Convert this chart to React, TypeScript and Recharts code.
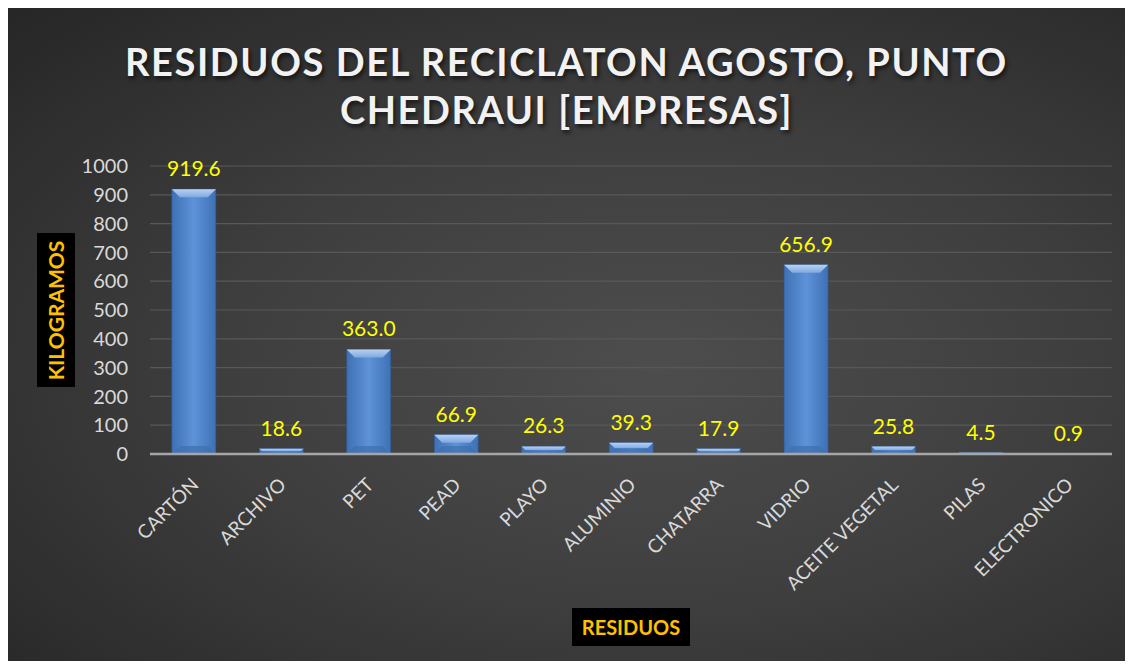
import { BarChart, Bar, XAxis, YAxis, CartesianGrid, LabelList } from 'recharts';

const categories = ['CARTÓN', 'ARCHIVO', 'PET', 'PEAD', 'PLAYO', 'ALUMINIO', 'CHATARRA', 'VIDRIO', 'ACEITE VEGETAL', 'PILAS', 'ELECTRONICO'];
const kilos = [919.6, 18.6, 363.0, 66.9, 26.3, 39.3, 17.9, 656.9, 25.8, 4.5, 0.9];
const yTicks = [0, 100, 200, 300, 400, 500, 600, 700, 800, 900, 1000];

const data = categories.map((name, i) => ({ name, kg: kilos[i] }));

const W = 1117;
const H = 653;

function BevelBar(props: any) {
    const { x, y, width, height } = props;
    if (!height || height <= 0) return null;
    const b = Math.min(8, height / 2, width / 4);
    return (
        <g>
            <rect x={x} y={y} width={width} height={height} fill="url(#barBody)" stroke="#2f5a91" strokeWidth={0.6} />
            <polygon points={`${x},${y} ${x + width},${y} ${x + width - b},${y + b} ${x + b},${y + b}`} fill="url(#barTop)" />
            <polygon points={`${x},${y + height} ${x + width},${y + height} ${x + width - b},${y + height - b} ${x + b},${y + height - b}`} fill="#3f6fae" opacity={0.7} />
        </g>
    );
}

function AngledTick(props: any) {
    const { x, y, payload } = props;
    return (
        <g transform={`translate(${x + 6},${y + 24})`}>
            <text textAnchor="end" transform="rotate(-45)" fill="#d9d9d9" fontSize={19} fontFamily="Lato, 'Open Sans', sans-serif">
                {payload.value}
            </text>
        </g>
    );
}

export default function App() {
    return (
        <div
            style={{
                position: 'relative',
                width: W,
                height: H,
                background: 'radial-gradient(ellipse at 58% 55%, #4d4d4d 0%, #3f3f3f 45%, #262626 100%)',
                fontFamily: "Lato, 'Open Sans', sans-serif",
            }}
        >
            <div
                style={{
                    position: 'absolute',
                    top: 29,
                    left: 0,
                    width: W,
                    textAlign: 'center',
                    color: '#f2f2f2',
                    fontSize: 38,
                    fontWeight: 700,
                    letterSpacing: 1.6,
                    lineHeight: '48px',
                    textShadow: '2px 3px 4px rgba(0,0,0,0.6)',
                }}
            >
                RESIDUOS DEL RECICLATON AGOSTO, PUNTO
                <br />
                CHEDRAUI [EMPRESAS]
            </div>
            <BarChart width={W} height={H} data={data} margin={{ top: 158, right: 13, left: 82, bottom: 87 }} barCategoryGap="25%">
                <defs>
                    <linearGradient id="barBody" x1="0" y1="0" x2="1" y2="0">
                        <stop offset="0%" stopColor="#3e70b4" />
                        <stop offset="50%" stopColor="#5e93d9" />
                        <stop offset="100%" stopColor="#3e70b4" />
                    </linearGradient>
                    <linearGradient id="barTop" x1="0" y1="0" x2="0" y2="1">
                        <stop offset="0%" stopColor="#b8d2f2" />
                        <stop offset="100%" stopColor="#7fa9e2" />
                    </linearGradient>
                </defs>
                <CartesianGrid vertical={false} stroke="#585858" strokeWidth={1.2} />
                <YAxis
                    width={60}
                    domain={[0, 1000]}
                    ticks={yTicks}
                    interval={0}
                    axisLine={false}
                    tickLine={false}
                    tickSize={0}
                    tickMargin={22}
                    tick={{ fill: '#d9d9d9', fontSize: 20, fontFamily: "Lato, 'Open Sans', sans-serif" }}
                />
                <XAxis
                    dataKey="name"
                    height={120}
                    interval={0}
                    tickLine={false}
                    axisLine={{ stroke: '#a6a6a6', strokeWidth: 2.5 }}
                    tick={<AngledTick />}
                />
                <Bar dataKey="kg" shape={<BevelBar />} isAnimationActive={false}>
                    <LabelList
                        dataKey="kg"
                        position="top"
                        offset={13}
                        formatter={(v: any) => Number(v).toFixed(1)}
                        fill="#ffff00"
                        fontSize={21}
                        fontFamily="Lato, 'Open Sans', sans-serif"
                    />
                </Bar>
            </BarChart>
            <div
                style={{
                    position: 'absolute',
                    left: 29,
                    top: 225,
                    width: 38,
                    height: 154,
                    background: '#000',
                    display: 'flex',
                    alignItems: 'center',
                    justifyContent: 'center',
                }}
            >
                <span
                    style={{
                        transform: 'rotate(-90deg)',
                        color: '#ffc000',
                        fontWeight: 700,
                        fontSize: 21,
                        whiteSpace: 'nowrap',
                    }}
                >
                    KILOGRAMOS
                </span>
            </div>
            <div
                style={{
                    position: 'absolute',
                    left: 564,
                    top: 600,
                    width: 118,
                    height: 38,
                    background: '#000',
                    color: '#ffc000',
                    fontWeight: 700,
                    fontSize: 20,
                    display: 'flex',
                    alignItems: 'center',
                    justifyContent: 'center',
                }}
            >
                RESIDUOS
            </div>
        </div>
    );
}
